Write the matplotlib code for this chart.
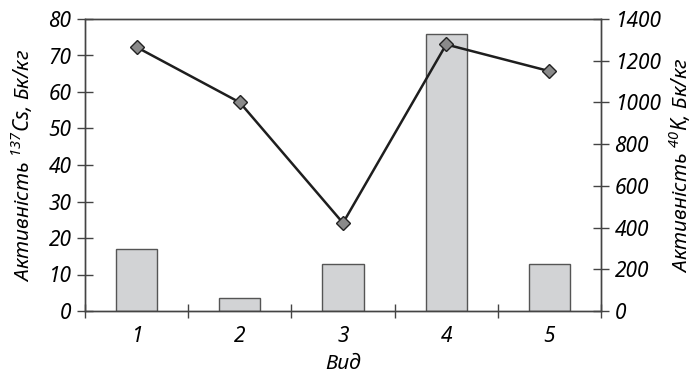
import matplotlib
matplotlib.use("Agg")
import matplotlib.pyplot as plt
from matplotlib.ticker import MultipleLocator, FixedLocator

plt.rcParams['font.family'] = ['Noto Sans', 'DejaVu Sans']
plt.rcParams['font.style'] = 'italic'
plt.rcParams['mathtext.fontset'] = 'custom'
plt.rcParams['mathtext.rm'] = 'Noto Sans:italic'
plt.rcParams['mathtext.it'] = 'Noto Sans:italic'
plt.rcParams['mathtext.default'] = 'rm'

# species number, Cs-137 (bars) and K-40 (line) activity
species = [1, 2, 3, 4, 5]
cs137 = [17, 3.5, 13, 76, 13]
k40 = [1265, 1000, 422, 1278, 1150]

spine_col = '#444444'

fig = plt.figure(figsize=(6.99, 3.82), dpi=100)
ax = fig.add_axes([85/699, 1 - 311/382, (601 - 85)/699, (311 - 19)/382])
ax2 = ax.twinx()

ax.bar(species, cs137, width=0.4, color='#d2d3d5', edgecolor='#555555', linewidth=1.0, zorder=2)
ax2.plot(species, k40, color='#1e1e1e', linewidth=1.8, marker='D', markersize=7,
         markerfacecolor='#8a8a8a', markeredgecolor='#222222', markeredgewidth=1.0, zorder=3)

ax.set_xlim(0.5, 5.5)
ax.set_ylim(0, 80)
ax2.set_ylim(0, 1400)
ax.yaxis.set_major_locator(MultipleLocator(10))
ax2.yaxis.set_major_locator(MultipleLocator(200))

# boundaries between categories carry the tick marks, labels sit in the middle
ax.xaxis.set_major_locator(FixedLocator([0.5, 1.5, 2.5, 3.5, 4.5, 5.5]))
ax.xaxis.set_minor_locator(FixedLocator(species))
ax.set_xticklabels([])
ax.set_xticklabels([str(s) for s in species], minor=True)
ax.tick_params(axis='x', which='major', direction='inout', length=10, width=1, color=spine_col)
ax.tick_params(axis='x', which='minor', length=0, pad=11, labelsize=15)

ax.tick_params(axis='y', direction='inout', length=11.5, width=1, color=spine_col, labelsize=15, pad=4)
ax2.tick_params(axis='y', direction='inout', length=11.5, width=1, color=spine_col, labelsize=15, pad=4)

for a in (ax, ax2):
    for s in a.spines.values():
        s.set_color(spine_col)
        s.set_linewidth(1.0)

ax.set_xlabel('Вид', fontsize=15, labelpad=4)
ax.set_ylabel(r'Активність $^{137}$Cs, Бк/кг', fontsize=15, labelpad=10)
ax2.set_ylabel(r'Активність $^{40}$K, Бк/кг', fontsize=15, labelpad=4)

fig.savefig('out.png', dpi=100)
